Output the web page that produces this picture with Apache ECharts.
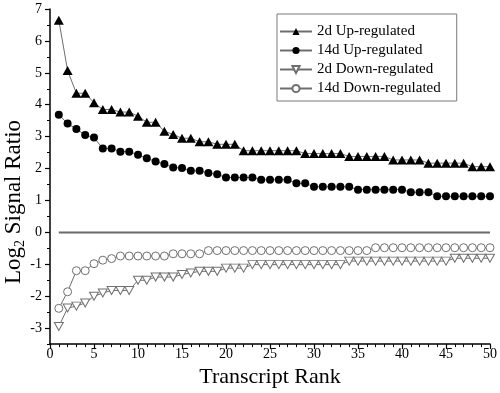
<!DOCTYPE html>
<html>
<head>
<meta charset="utf-8">
<script src="https://cdn.jsdelivr.net/npm/echarts@6/dist/echarts.min.js"></script>
<style>
html,body{margin:0;padding:0;background:#fff;}
#chart{width:500px;height:393px;}
</style>
</head>
<body>
<div id="chart"></div>
<script>
// Transcript rank 1..50
var ranks = [1,2,3,4,5,6,7,8,9,10,11,12,13,14,15,16,17,18,19,20,21,22,23,24,25,26,27,28,29,30,31,32,33,34,35,36,37,38,39,40,41,42,43,44,45,46,47,48,49,50];

var up2d = [6.65,5.07,4.36,4.36,4.06,3.85,3.85,3.77,3.77,3.64,
            3.45,3.45,3.17,3.07,2.95,2.95,2.84,2.84,2.76,2.76,
            2.76,2.56,2.56,2.56,2.56,2.56,2.56,2.56,2.47,2.47,
            2.47,2.47,2.47,2.38,2.38,2.38,2.38,2.38,2.27,2.27,
            2.27,2.27,2.17,2.17,2.17,2.17,2.17,2.06,2.06,2.06];

var up14d = [3.69,3.41,3.24,3.05,2.97,2.63,2.63,2.53,2.53,2.43,
             2.32,2.22,2.14,2.03,2.02,1.93,1.93,1.86,1.82,1.72,
             1.72,1.72,1.72,1.65,1.65,1.65,1.65,1.54,1.54,1.43,
             1.43,1.43,1.43,1.43,1.34,1.34,1.34,1.34,1.34,1.34,
             1.26,1.26,1.26,1.13,1.13,1.13,1.13,1.13,1.13,1.13];

var down2d = [-2.95,-2.37,-2.31,-2.21,-2.0,-1.9,-1.82,-1.82,-1.82,-1.5,
              -1.5,-1.4,-1.4,-1.4,-1.32,-1.27,-1.22,-1.22,-1.22,-1.12,
              -1.12,-1.12,-1.01,-1.01,-1.01,-1.01,-1.01,-1.01,-1.01,-1.01,
              -1.01,-1.01,-1.01,-0.9,-0.9,-0.9,-0.9,-0.9,-0.9,-0.9,
              -0.9,-0.9,-0.9,-0.9,-0.9,-0.81,-0.81,-0.81,-0.81,-0.81];

var down14d = [-2.38,-1.86,-1.2,-1.2,-0.98,-0.87,-0.82,-0.74,-0.74,-0.74,
               -0.74,-0.74,-0.74,-0.67,-0.67,-0.67,-0.67,-0.57,-0.57,-0.57,
               -0.57,-0.57,-0.57,-0.57,-0.57,-0.57,-0.57,-0.57,-0.57,-0.57,
               -0.57,-0.57,-0.57,-0.57,-0.57,-0.57,-0.48,-0.48,-0.48,-0.48,
               -0.48,-0.48,-0.48,-0.48,-0.48,-0.48,-0.48,-0.48,-0.48,-0.48];

var seriesNames = ['2d Up-regulated','14d Up-regulated','2d Down-regulated','14d Down-regulated'];
var zeroLine = [[1,0],[50,0]];
var yMajorTicks = [-3,-2,-1,0,1,2,3,4,5,6,7];
var yMinorTicks = [-3.5,-2.5,-1.5,-0.5,0.5,1.5,2.5,3.5,4.5,5.5,6.5];

function pairs(vals){ return ranks.map(function(r,i){ return [r, vals[i]]; }); }

var FONT = 'Liberation Serif';
var lineStyle = {color:'#6e6e6e', width:1};

var chart = echarts.init(document.getElementById('chart'), null, {renderer:'canvas'});
chart.setOption({
  animation:false,
  backgroundColor:'#fff',
  grid:{left:50, right:9, top:9, bottom:46, containLabel:false},
  legend:{
    orient:'vertical', left:277, top:14,
    data: seriesNames,
    backgroundColor:'#fff',
    borderColor:'#7a7a7a', borderWidth:1,
    padding:[10,16,5,2],
    itemWidth:32, itemHeight:9, itemGap:4,
    textStyle:{fontFamily:FONT, fontSize:15, color:'#000', lineHeight:15}
  },
  xAxis:{
    type:'value', min:0, max:50, interval:5,
    name:'Transcript Rank', nameLocation:'middle', nameGap:21,
    nameTextStyle:{fontFamily:FONT, fontSize:22, color:'#000'},
    axisLine:{show:true, onZero:false, lineStyle:{color:'#000', width:1.5}},
    axisTick:{show:true, length:5, lineStyle:{color:'#000', width:1.2}},
    minorTick:{show:true, splitNumber:5, length:3, lineStyle:{color:'#000', width:1}},
    axisLabel:{fontFamily:FONT, fontSize:14, color:'#000', margin:3},
    splitLine:{show:false}
  },
  yAxis:[{
    type:'value', min:-3.5, max:7,
    axisLine:{show:true, onZero:false, lineStyle:{color:'#000', width:1.5}},
    axisTick:{show:true, length:5, customValues:yMajorTicks, lineStyle:{color:'#000', width:1.2}},
    axisLabel:{fontFamily:FONT, fontSize:14, color:'#000', margin:8, customValues:yMajorTicks},
    splitLine:{show:false}
  },{
    type:'value', min:-3.5, max:7, position:'left',
    axisLine:{show:false},
    axisTick:{show:true, length:3, customValues:yMinorTicks, lineStyle:{color:'#000', width:1}},
    axisLabel:{show:false},
    splitLine:{show:false}
  }],
  graphic:[{
    type:'text', x:14, y:202, rotation:Math.PI/2,
    style:{
      text:'{a|Log}{b|2}{a| Signal Ratio}',
      align:'center', verticalAlign:'middle',
      rich:{
        a:{fontFamily:FONT, fontSize:23, fill:'#000'},
        b:{fontFamily:FONT, fontSize:14, fill:'#000', padding:[12,0,0,0]}
      }
    }
  }],
  series:[
    {name:'zero', type:'line', data:zeroLine, symbol:'none', silent:true,
     lineStyle:{color:'#6a6a6a', width:2}, z:1},
    {name:seriesNames[0], type:'line', data:pairs(up2d),
     symbol:'triangle', symbolSize:[10,9], showAllSymbol:true,
     itemStyle:{color:'#000', borderWidth:0}, lineStyle:lineStyle, z:3},
    {name:seriesNames[1], type:'line', data:pairs(up14d),
     symbol:'circle', symbolSize:8, showAllSymbol:true,
     itemStyle:{color:'#000', borderWidth:0}, lineStyle:lineStyle, z:3},
    {name:seriesNames[2], type:'line', data:pairs(down2d),
     symbol:'triangle', symbolRotate:180, symbolSize:[9,8], showAllSymbol:true,
     itemStyle:{color:'#fff', borderColor:'#707070', borderWidth:1}, lineStyle:lineStyle, z:3},
    {name:seriesNames[3], type:'line', data:pairs(down14d),
     symbol:'circle', symbolSize:8, showAllSymbol:true,
     itemStyle:{color:'#fff', borderColor:'#707070', borderWidth:1}, lineStyle:lineStyle, z:3}
  ]
});
</script>
</body>
</html>
